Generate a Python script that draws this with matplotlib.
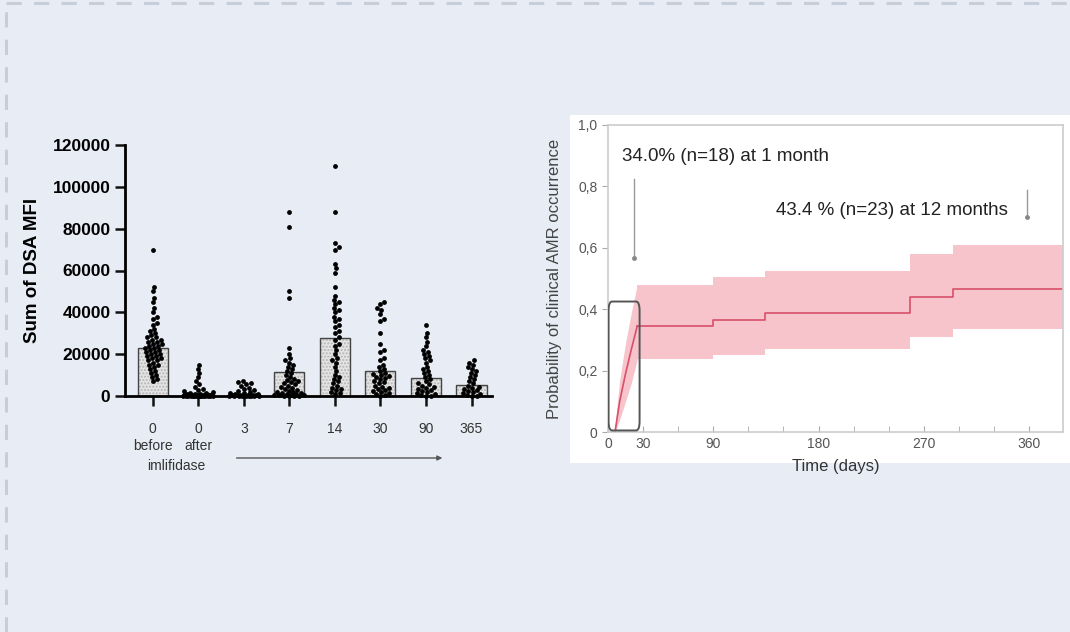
import numpy as np
import matplotlib
matplotlib.use("Agg")
import matplotlib.pyplot as plt
from matplotlib.patches import Rectangle, FancyBboxPatch
from matplotlib.lines import Line2D

plt.rcParams['font.family'] = ['Liberation Sans', 'DejaVu Sans']

# ---------------- data: left panel (sum of DSA MFI) ----------------
groups = ["0", "0", "3", "7", "14", "30", "90", "365"]
sub_labels = ["before", "after", "", "", "", "", "", ""]
bar_heights = [23000, 1500, 1000, 11500, 27500, 12000, 8500, 5300]

pts_before = [70000, 52000, 50000, 47000, 45000, 42000, 40000, 38000, 37000, 35000,
              34000, 32000, 31000, 30000, 29000, 28000, 28000, 27000, 27000, 26000,
              26000, 25000, 25000, 24000, 24000, 23000, 23000, 22000, 22000, 21000,
              21000, 20000, 20000, 19000, 19000, 18000, 18000, 17000, 17000, 16000,
              15000, 15000, 14000, 13000, 12000, 11000, 10000, 9000, 8000, 7000]
pts_after = [15000, 13000, 11000, 9000, 7000, 5500, 4500, 3500, 3000, 2500,
             2000, 1500, 1200, 1000, 900, 800, 700, 600, 500, 500, 400, 400,
             300, 300, 200, 200, 200, 100, 100, 100, 50, 50, 0, 0, 0, 0, 0, 0, 0, 0]
pts_d3 = [7000, 6500, 6000, 5500, 5000, 4000, 3500, 3000, 2500, 2000, 1500, 1200,
          1000, 800, 700, 600, 500, 400, 300, 300, 200, 200, 100, 100, 50, 0, 0, 0, 0, 0]
pts_d7 = [88000, 81000, 50000, 47000, 23000, 20000, 18000, 17000, 16000, 15000,
          14000, 13000, 12000, 11000, 10000, 9000, 8000, 7500, 7000, 6500, 6000,
          5500, 5000, 4500, 4000, 3500, 3000, 2500, 2000, 1800, 1500, 1200, 1000,
          800, 600, 500, 400, 300, 200, 100, 0, 0]
pts_d14 = [110000, 88000, 73000, 71000, 70000, 63000, 61000, 59000, 52000, 48000,
           46000, 45000, 44000, 42000, 41000, 40000, 38000, 37000, 36000, 34000,
           33000, 31000, 30000, 28000, 27000, 25000, 24000, 22000, 20000, 18000,
           17000, 16000, 14000, 12000, 10000, 9000, 8000, 7000, 6000, 5000, 4000,
           3500, 3000, 2000, 1500, 1000]
pts_d30 = [45000, 44000, 42000, 41000, 39000, 37000, 36000, 30000, 25000, 22000,
           21000, 18000, 17000, 15000, 14000, 13000, 12000, 11000, 10500, 10000,
           9500, 9000, 8500, 8000, 7000, 6500, 6000, 5000, 4500, 4000, 3500, 3000,
           2500, 2000, 1500, 1000, 500, 0]
pts_d90 = [34000, 30000, 28000, 26000, 24000, 22000, 21000, 20000, 19000, 18000,
           17000, 16000, 14000, 13000, 12000, 11000, 10000, 9000, 8000, 7000, 6000,
           5500, 5000, 4500, 4000, 3500, 3000, 2500, 2000, 1500, 1000, 500, 0, 0]
pts_d365 = [17000, 16000, 15000, 14000, 13000, 12000, 11000, 10000, 9000, 8000,
            7000, 6000, 5000, 4500, 4000, 3500, 3000, 2500, 2000, 1500, 1000, 500, 0, 0]
all_points = [pts_before, pts_after, pts_d3, pts_d7, pts_d14, pts_d30, pts_d90, pts_d365]

# ---------------- data: right panel (cumulative incidence) ----------------
# steep first month (drawn as a continuous rise)
rise_t = [6, 10, 15, 20, 25]
rise_p = [0, 0.10, 0.19, 0.27, 0.345]
rise_lo = [0, 0.04, 0.10, 0.16, 0.237]
rise_hi = [0.02, 0.17, 0.29, 0.39, 0.48]
# later steps
km_t = [25, 90, 134, 258, 295, 389]
km_p = [0.345, 0.365, 0.388, 0.44, 0.465, 0.465]
ci_lo = [0.237, 0.25, 0.27, 0.31, 0.335, 0.335]
ci_hi = [0.48, 0.505, 0.525, 0.58, 0.61, 0.61]
x_ticks = [0, 30, 90, 180, 270, 360]
y_ticks = [0, 0.2, 0.4, 0.6, 0.8, 1.0]
y_tick_labels = ["0", "0,2", "0,4", "0,6", "0,8", "1,0"]

W, H = 1070, 632
BG = '#e8edf5'


def fig_rect(x0, y0, x1, y1):
    "pixel box (top-left origin) -> figure fraction [l, b, w, h]"
    return [x0 / W, 1 - y1 / H, (x1 - x0) / W, (y1 - y0) / H]


def swarm(vals, px_per_val, diam=4.3, max_half=15):
    "simple beeswarm: returns x offsets in pixels"
    vals = np.asarray(vals, float)
    order = np.argsort(vals)
    cands = [0.0]
    for k in np.arange(1, max_half + 0.1, 1.0):
        cands += [k, -k]
    placed = []
    xs = np.zeros(len(vals))
    for i in order:
        y = vals[i] * px_per_val
        best, best_d = 0.0, -1
        for c in cands:
            if placed:
                d = min(np.hypot(c - px, y - py) for px, py in placed)
            else:
                d = 99
            if d >= diam:
                best = c
                break
            if d > best_d:
                best, best_d = c, d
        xs[i] = best
        placed.append((best, y))
    return xs


fig = plt.figure(figsize=(W / 100, H / 100), dpi=100, facecolor=BG)

# dashed frame (only top and left visible)
fig.add_artist(Line2D([6 / W, 6 / W], [0, 1 - 3 / H], transform=fig.transFigure,
                      color='#c6ceda', lw=2.2, ls=(0, (5, 4))))
fig.add_artist(Line2D([6 / W, 1], [1 - 3 / H, 1 - 3 / H], transform=fig.transFigure,
                      color='#c6ceda', lw=2.2, ls=(0, (5, 4))))

# ---------------- left panel ----------------
ax = fig.add_axes(fig_rect(125, 145, 492, 396))
ax.set_facecolor('none')
xpos = np.arange(len(groups))
px_per_x = 45.6
px_per_val = 251 / 120000

ax.bar(xpos, bar_heights, width=0.66, color='#e4e4e4', edgecolor='#b5b5b5',
       lw=0, hatch='.....', zorder=1)
ax.bar(xpos, bar_heights, width=0.66, facecolor='none', edgecolor='#444444',
       lw=1.0, zorder=2)
for i, pts in enumerate(all_points):
    off = swarm(pts, px_per_val)
    ax.scatter(xpos[i] + off / px_per_x, pts, s=12, color='black', lw=0,
               zorder=3, clip_on=False)

ax.set_xlim(-0.61, 7.45)
ax.set_ylim(0, 120000)
ax.set_yticks(np.arange(0, 120001, 20000))
ax.set_yticklabels([str(v) for v in range(0, 120001, 20000)],
                   fontsize=12.5, fontweight='bold')
ax.set_xticks(xpos)
ax.set_xticklabels([g + ("\n" + s if s else "") for g, s in zip(groups, sub_labels)],
                   fontsize=10, color='#333333', va='top', linespacing=1.25)
for s in ['top', 'right']:
    ax.spines[s].set_visible(False)
for s in ['left', 'bottom']:
    ax.spines[s].set_linewidth(2)
ax.tick_params(axis='both', length=7, width=1.8, color='#111111')
ax.tick_params(axis='x', pad=12)
ax.set_ylabel("Sum of DSA MFI", fontsize=13.5, fontweight='bold', labelpad=8)
tr = ax.get_xaxis_transform()
ax.text(0.52, -0.28, "imlifidase", transform=tr, ha='center', va='center',
        fontsize=10, color='#333333')
ax.annotate("", xy=(6.36, -0.247), xytext=(1.84, -0.247), xycoords=tr, textcoords=tr,
            arrowprops=dict(arrowstyle='-|>', color='#555555', lw=1.0,
                            mutation_scale=7, shrinkA=0, shrinkB=0))

# ---------------- right panel ----------------
fig.add_artist(Rectangle((570 / W, 1 - 463 / H), 500 / W, 348 / H,
                         transform=fig.transFigure, facecolor='white',
                         edgecolor='none', zorder=0))
ax2 = fig.add_axes(fig_rect(608, 125, 1063, 432))
ax2.set_facecolor('white')
ax2.fill_between(rise_t, rise_lo, rise_hi, color='#f8c4cc', lw=0, zorder=1)
ax2.fill_between(km_t, ci_lo, ci_hi, step='post', color='#f8c4cc', lw=0, zorder=1)
ax2.plot(rise_t, rise_p, color='#d8506a', lw=1.2, zorder=2)
ax2.step(km_t, km_p, where='post', color='#d8506a', lw=1.2, zorder=2)
ax2.add_patch(FancyBboxPatch((0.5, 0.005), 26.5, 0.42,
                             boxstyle='round,pad=0,rounding_size=3',
                             mutation_aspect=0.01,
                             facecolor='none', edgecolor='#555555', lw=1.4, zorder=3))
ax2.set_xlim(0, 389)
ax2.set_ylim(0, 1.0)
ax2.set_xticks(x_ticks)
ax2.set_xticklabels([str(v) for v in x_ticks], fontsize=10, color='#555555')
ax2.set_xticks(np.arange(30, 389, 30), minor=True)
ax2.set_yticks(y_ticks)
ax2.set_yticklabels(y_tick_labels, fontsize=10, color='#555555')
ax2.tick_params(axis='x', which='both', direction='in', length=4, color='#aaaaaa')
ax2.tick_params(axis='y', direction='out', length=4, color='#aaaaaa')
for s in ax2.spines.values():
    s.set_color('#cccccc')
    s.set_linewidth(1.2)
ax2.set_xlabel("Time (days)", fontsize=12, color='#333333', labelpad=6)
ax2.set_ylabel("Probability of clinical AMR occurrence", fontsize=12,
               color='#444444', labelpad=12)

ax2.text(12, 0.896, "34.0% (n=18) at 1 month", fontsize=13.5, color='#222222',
         ha='left', va='center')
ax2.text(342, 0.722, "43.4 % (n=23) at 12 months", fontsize=13.5, color='#222222',
         ha='right', va='center')
ax2.plot([22, 22], [0.823, 0.566], color='#999999', lw=1.0)
ax2.plot([22], [0.566], 'o', color='#888888', ms=2.5)
ax2.plot([358, 358], [0.787, 0.70], color='#999999', lw=1.0)
ax2.plot([358], [0.70], 'o', color='#888888', ms=2.5)

fig.savefig("out.png", dpi=100, facecolor=BG)
